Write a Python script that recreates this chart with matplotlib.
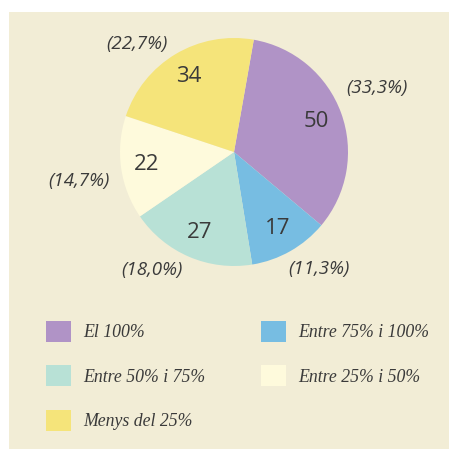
import matplotlib
matplotlib.use('Agg')
import matplotlib.pyplot as plt
from matplotlib.patches import Rectangle

# data
categories = ['El 100%', 'Entre 75% i 100%', 'Entre 50% i 75%',
              'Entre 25% i 50%', 'Menys del 25%']
counts = [50, 17, 27, 22, 34]
colors = ['#b093c6', '#77bde2', '#b8e1d6', '#fefadc', '#f5e47a']

total = sum(counts)
pct_labels = ['({:.1f}%)'.format(c / total * 100).replace('.', ',') for c in counts]

W = 449
fig = plt.figure(figsize=(W / 100, W / 100), dpi=100)
fig.patch.set_facecolor('white')
ax = fig.add_axes([0, 0, 1, 1])

txt_col = '#3a3a3a'

wedges, texts, autotexts = ax.pie(
    counts, colors=colors, startangle=80, counterclock=False,
    center=(234, W - 152), radius=114, frame=True,
    labels=pct_labels, labeldistance=1.3,
    autopct=lambda p: '{:.0f}'.format(p * total / 100), pctdistance=0.77,
    wedgeprops=dict(linewidth=0),
    textprops=dict(color=txt_col),
)
for at in autotexts:
    at.set_fontfamily('Open Sans')
    at.set_fontsize(16)

# hand tuned positions of the percentage labels (pixels from top-left)
pct_pos = [(377, 88), (319, 269), (152, 270), (79, 181), (137, 44)]
for t, (x, y) in zip(texts, pct_pos):
    t.set_position((x, W - y))
    t.set_ha('center')
    t.set_va('center')
    t.set_fontfamily('Open Sans')
    t.set_fontstyle('italic')
    t.set_fontsize(13.5)

ax.set_xlim(0, W)
ax.set_ylim(0, W)
ax.set_aspect('equal')
ax.axis('off')

# beige panel
ax.add_patch(Rectangle((9, 0), W - 9, W - 12, facecolor='#f2edd6',
                       edgecolor='none', zorder=0))

# legend, filled column by column
order = [0, 2, 4, 1, 3]
leg = ax.legend([wedges[i] for i in order], [categories[i] for i in order],
                ncol=2, loc='upper left', bbox_to_anchor=(46, W - 321),
                bbox_transform=ax.transData, frameon=False,
                borderpad=0, borderaxespad=0,
                handlelength=1.42, handleheight=1.42, handletextpad=0.7,
                labelspacing=1.33, columnspacing=3.1,
                prop=dict(family='Liberation Serif', style='italic', size=12.8))
for t in leg.get_texts():
    t.set_color(txt_col)

fig.savefig('out.png', dpi=100, facecolor=fig.get_facecolor())
